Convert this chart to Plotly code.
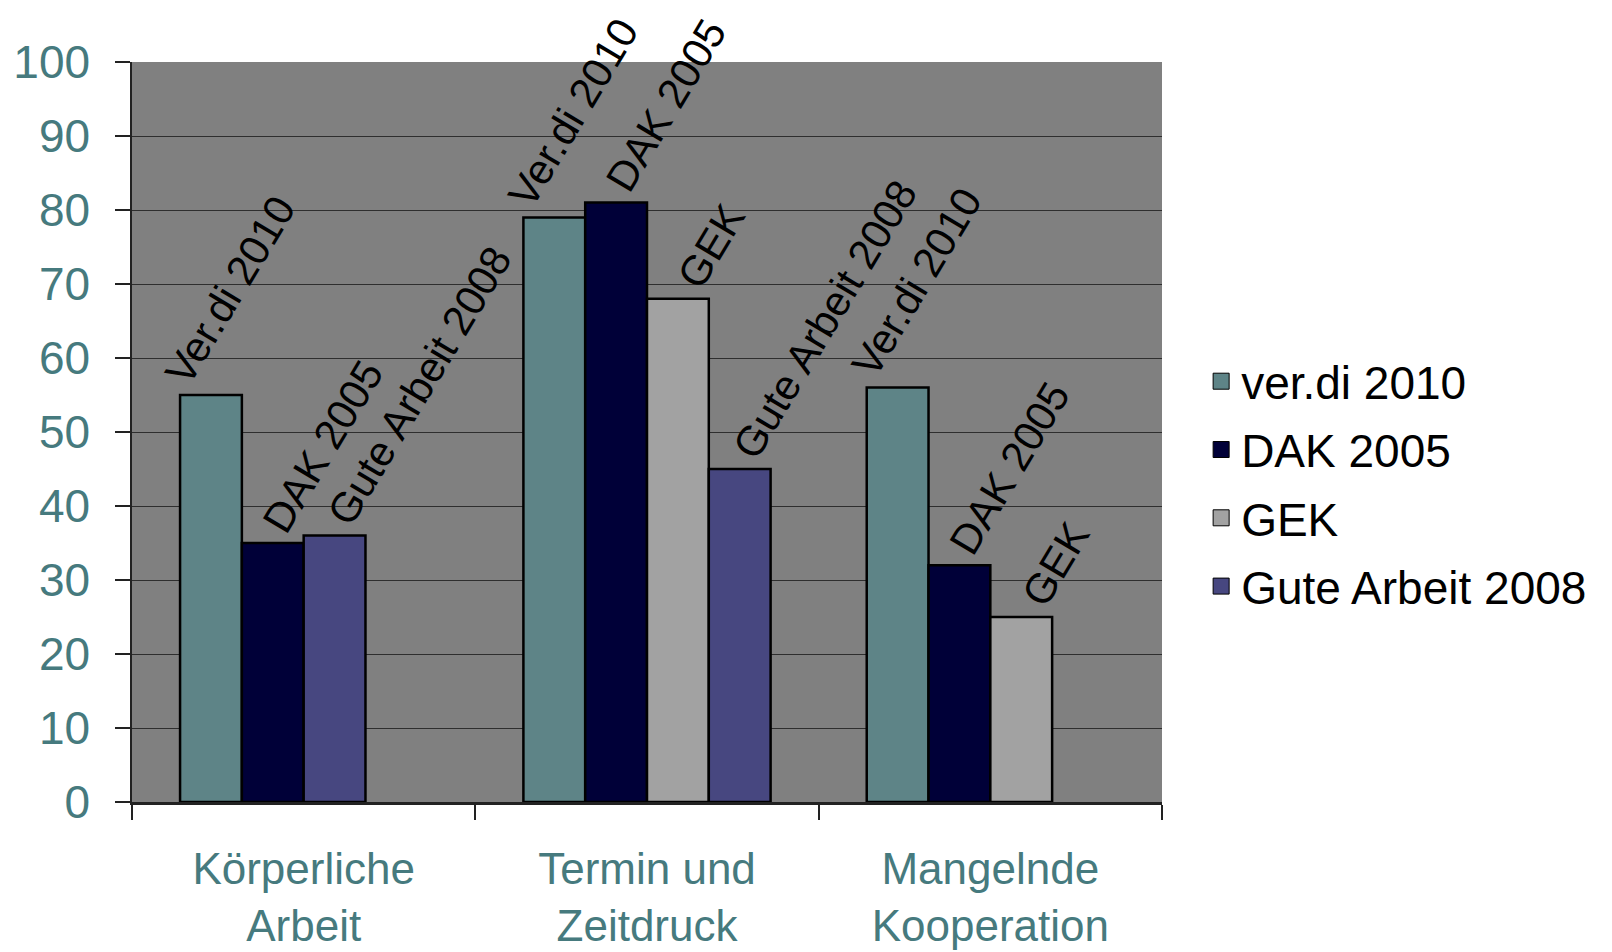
import plotly.graph_objects as go

# ---- data ----
categories = ["Körperliche<br>Arbeit", "Termin und<br>Zeitdruck", "Mangelnde<br>Kooperation"]
series_names = ["ver.di 2010", "DAK 2005", "GEK", "Gute Arbeit 2008"]
bar_labels = ["Ver.di 2010", "DAK 2005", "GEK", "Gute Arbeit 2008"]
verdi_2010 = [55, 79, 56]
dak_2005 = [35, 81, 32]
gek = [None, 68, 25]
gute_arbeit_2008 = [36, 45, None]
y_tick_values = [0, 10, 20, 30, 40, 50, 60, 70, 80, 90, 100]

# ---- style ----
colors = ["#5E8487", "#000038", "#A2A2A2", "#474780"]
label_xshift = [-58, -22, -12, -19]   # per-series label nudge (px)
TEAL = "#467A7E"
FONT = "Arial, Liberation Sans, sans-serif"
BAR_W = 0.18

all_values = [verdi_2010, dak_2005, gek, gute_arbeit_2008]
n_slots = len(all_values)
group_w = BAR_W * n_slots

fig = go.Figure()
annotations = []
for si, vals in enumerate(all_values):
    offsets = []
    for ci in range(len(categories)):
        slot = sum(1 for sj in range(si) if all_values[sj][ci] is not None)
        off = -group_w / 2 + slot * BAR_W
        offsets.append(off)
        if vals[ci] is not None:
            annotations.append(dict(
                x=ci + off + BAR_W / 2, y=vals[ci], xref="x", yref="y",
                text=bar_labels[si], showarrow=False, textangle=-59,
                xanchor="left", yanchor="bottom",
                xshift=label_xshift[si], yshift=0,
                font=dict(size=42, color="black", family=FONT),
            ))
    fig.add_trace(go.Bar(
        x=categories, y=vals, name=series_names[si],
        width=BAR_W, offset=offsets,
        marker=dict(color=colors[si], line=dict(color="black", width=2.5)),
        showlegend=False,
    ))
    # legend proxy
    fig.add_trace(go.Scatter(
        x=[None], y=[None], mode="markers", name=series_names[si],
        marker=dict(symbol="square", size=25, color=colors[si],
                    line=dict(color="black", width=1)),
        legendgroup=str(si),
    ))

fig.update_layout(
    width=1612, height=952,
    margin=dict(l=131.5, r=450, t=62, b=150),
    paper_bgcolor="white", plot_bgcolor="#808080",
    barmode="overlay",
    font=dict(family=FONT),
    annotations=annotations,
    legend=dict(x=1.038, y=0.43, xanchor="left", yanchor="middle",
                font=dict(size=46, color="black", family=FONT),
                itemsizing="trace", tracegroupgap=5.5, bgcolor="rgba(0,0,0,0)"),
)
fig.update_yaxes(
    range=[0, 100], tickvals=y_tick_values, showgrid=True,
    gridcolor="#2E2E2E", gridwidth=1.3,
    showline=True, linecolor="#222222", linewidth=1.5,
    ticks="outside", ticklen=15, tickwidth=2, tickcolor="#222222",
    tickfont=dict(size=46, color=TEAL, family=FONT),
    ticklabelstandoff=16, zeroline=False, automargin=False,
)
fig.update_xaxes(
    type="category", range=[-0.5, 2.5],
    showline=True, linecolor="#222222", linewidth=2.5,
    ticks="outside", ticklen=15, tickwidth=2, tickcolor="#222222",
    tickson="boundaries",
    tickfont=dict(size=44, color=TEAL, family=FONT),
    ticklabelstandoff=26, showgrid=False, automargin=False,
)

fig.write_html("out.html")
